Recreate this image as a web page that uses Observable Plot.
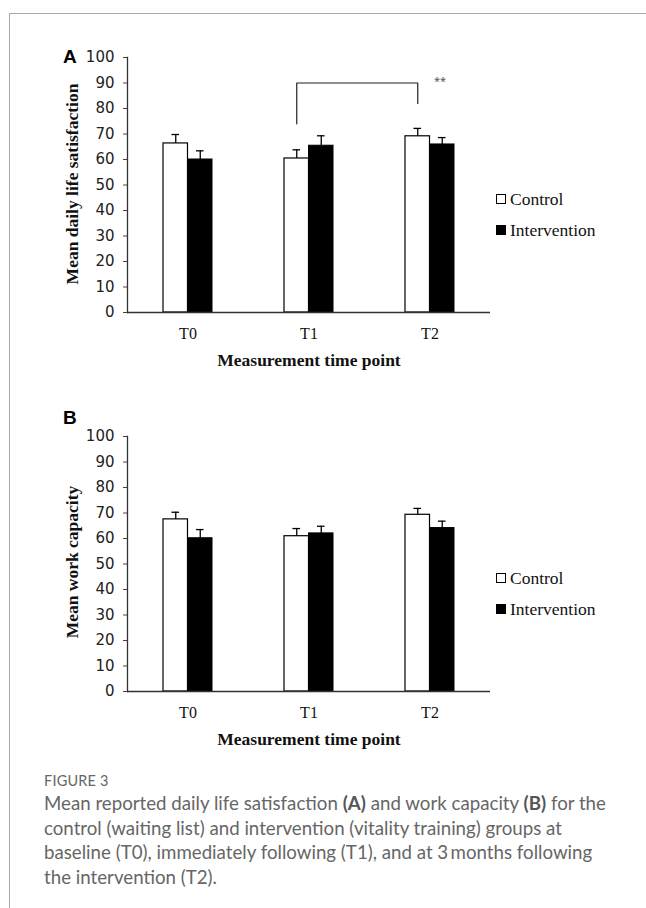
<!DOCTYPE html>
<html>
<head>
<meta charset="utf-8">
<script src="https://cdn.jsdelivr.net/npm/d3@7"></script>
<script src="https://cdn.jsdelivr.net/npm/@observablehq/plot@0.6"></script>
<style>
  html, body { margin: 0; padding: 0; background: #fff; }
  #page { position: relative; width: 646px; height: 908px; overflow: hidden; }
  #card { position: absolute; left: 9px; top: 13px; right: -5px; bottom: -5px; border-top: 1.5px solid #a9a9a9; border-left: 1.5px solid #a9a9a9; }
  .panel { position: absolute; left: 0; }
  .panel svg { overflow: visible; }
  .plabel { position: absolute; font: bold 19px "Liberation Sans", Arial, sans-serif; color: #000; }
  .ytitle { position: absolute; left: 72px; transform: translate(-50%, -50%) rotate(-90deg); white-space: nowrap;
            font: bold 17.5px "Liberation Serif", serif; color: #111; }
  .legend { position: absolute; left: 496px; font: 17.5px "Liberation Serif", serif; color: #111; }
  .legend div { display: flex; align-items: center; height: 20px; margin-bottom: 11px; }
  .legend span.sw { display: inline-block; width: 10px; height: 10px; margin-right: 4px; box-sizing: border-box; }
  g[aria-label="y-axis tick label"] text { font: 15px "DejaVu Sans", sans-serif; fill: #222; }
  g[aria-label="x-axis tick label"] text { font: 16px "Liberation Serif", serif; fill: #111; }
  g[aria-label="x-axis label"] text { font: bold 17.5px "Liberation Serif", serif; fill: #111; }
  #caption { position: absolute; left: 44px; top: 771px; width: 600px; font-family: Lato, "Open Sans", sans-serif; color: #666; white-space: nowrap; }
  #caption .fig { font-size: 14.5px; letter-spacing: 0.2px; line-height: 20px; }
  #caption .txt { font-size: 18.7px; line-height: 24.5px; font-weight: 400; }
  #caption b { color: #555; }
</style>
</head>
<body>
<div id="page">
  <div id="card"></div>
  <div class="plabel" style="left:63px; top:46px;">A</div>
  <div class="plabel" style="left:63px; top:407px;">B</div>
  <div class="panel" id="panelA" style="top:40px;"></div>
  <div class="panel" id="panelB" style="top:419px;"></div>
  <div class="ytitle" id="ytitleA" style="top:184px;"></div>
  <div class="ytitle" id="ytitleB" style="top:562px;"></div>
  <div class="legend" style="top:189px;">
    <div><span class="sw" style="background:#fff;border:1.2px solid #000;"></span>Control</div>
    <div><span class="sw" style="background:#000;"></span>Intervention</div>
  </div>
  <div class="legend" style="top:568px;">
    <div><span class="sw" style="background:#fff;border:1.2px solid #000;"></span>Control</div>
    <div><span class="sw" style="background:#000;"></span>Intervention</div>
  </div>
  <div id="caption">
    <div class="fig">FIGURE 3</div>
    <div class="txt">Mean reported daily life satisfaction <b>(A)</b> and work capacity <b>(B)</b> for the<br>control (waiting list) and intervention (vitality training) groups at<br>baseline (T0), immediately following (T1), and at 3&#8201;months following<br>the intervention (T2).</div>
  </div>
</div>
<script>
// ---- data ----
const timePoints = ["T0", "T1", "T2"];
const groups = ["Control", "Intervention"];
const yTicks = [0, 10, 20, 30, 40, 50, 60, 70, 80, 90, 100];
const yTitleA = "Mean daily life satisfaction";
const yTitleB = "Mean work capacity";
const xTitle = "Measurement time point";

// Panel A: mean daily life satisfaction
const satisfactionControl = [66.3, 60.4, 69.1];
const satisfactionControlSE = [3.5, 3.4, 3.1];
const satisfactionIntervention = [60.0, 65.4, 65.9];
const satisfactionInterventionSE = [3.4, 3.9, 2.7];

// Panel B: mean work capacity
const workControl = [67.5, 60.9, 69.3];
const workControlSE = [2.8, 3.0, 2.5];
const workIntervention = [60.1, 62.0, 64.1];
const workInterventionSE = [3.4, 2.8, 2.7];

// significance bracket (panel A): T1 control vs T2 control
const bracketTimes = ["T1", "T1", "T2", "T2"];
const bracketValues = [74, 90, 90, 82];
const bracketLabel = "**";

function rows(ctrl, ctrlSE, intv, intvSE) {
  const out = [];
  timePoints.forEach((t, i) => {
    out.push({time: t, group: "Control", value: ctrl[i], upper: ctrl[i] + ctrlSE[i]});
    out.push({time: t, group: "Intervention", value: intv[i], upper: intv[i] + intvSE[i]});
  });
  return out;
}

const W = 646, H = 340;
const ML = 127, MR = 156, MT = 17, MB = 68;
const bw = (W - ML - MR) / timePoints.length;
const barW = 24.5;

function panel(data, bracket) {
  const ctrl = data.filter(d => d.group === "Control");
  const intv = data.filter(d => d.group === "Intervention");
  const marks = [
    Plot.barY(ctrl, {x: "time", y: "value", fill: "#fff", stroke: "#000", strokeWidth: 1.2,
      insetLeft: bw / 2 - barW, insetRight: bw / 2}),
    Plot.barY(intv, {x: "time", y: "value", fill: "#000", stroke: "#000", strokeWidth: 1,
      insetLeft: bw / 2, insetRight: bw / 2 - barW}),
    Plot.ruleX(ctrl, {x: "time", y1: "value", y2: "upper", dx: -barW / 2, stroke: "#000", strokeWidth: 1.3}),
    Plot.ruleX(intv, {x: "time", y1: "value", y2: "upper", dx: barW / 2, stroke: "#000", strokeWidth: 1.3}),
    Plot.tickY(ctrl, {x: "time", y: "upper", dx: -barW / 2, insetLeft: bw / 2 - 3.8, insetRight: bw / 2 - 3.8, stroke: "#000", strokeWidth: 1.3}),
    Plot.tickY(intv, {x: "time", y: "upper", dx: barW / 2, insetLeft: bw / 2 - 3.8, insetRight: bw / 2 - 3.8, stroke: "#000", strokeWidth: 1.3}),
    Plot.ruleY([0], {stroke: "#333", strokeWidth: 1.3}),
    Plot.frame({anchor: "left", stroke: "#333", strokeWidth: 1.3}),
    Plot.axisY({ticks: yTicks, tickSize: 4, tickPadding: 9, stroke: "#444", label: null}),
    Plot.axisX({tickSize: 0, tickPadding: 15, label: xTitle, labelAnchor: "center", labelOffset: 53})
  ];
  if (bracket) {
    const b = bracketTimes.map((t, i) => ({time: t, value: bracketValues[i]}));
    marks.push(Plot.line(b, {x: "time", y: "value", dx: -barW / 2, stroke: "#222", strokeWidth: 1.2}));
    marks.push(Plot.text([{time: "T2", value: 90.6}], {x: "time", y: "value", text: () => bracketLabel, dx: 10, fontSize: 11, fill: "#555"}));
  }
  return Plot.plot({
    width: W, height: H,
    marginLeft: ML, marginRight: MR, marginTop: MT, marginBottom: MB,
    x: {type: "band", domain: timePoints, padding: 0},
    y: {domain: [0, 100]},
    style: {background: "transparent", overflow: "visible"},
    marks
  });
}

document.getElementById("panelA").appendChild(
  panel(rows(satisfactionControl, satisfactionControlSE, satisfactionIntervention, satisfactionInterventionSE), true));
document.getElementById("panelB").appendChild(
  panel(rows(workControl, workControlSE, workIntervention, workInterventionSE), false));
document.getElementById("ytitleA").textContent = yTitleA;
document.getElementById("ytitleB").textContent = yTitleB;
</script>
</body>
</html>
